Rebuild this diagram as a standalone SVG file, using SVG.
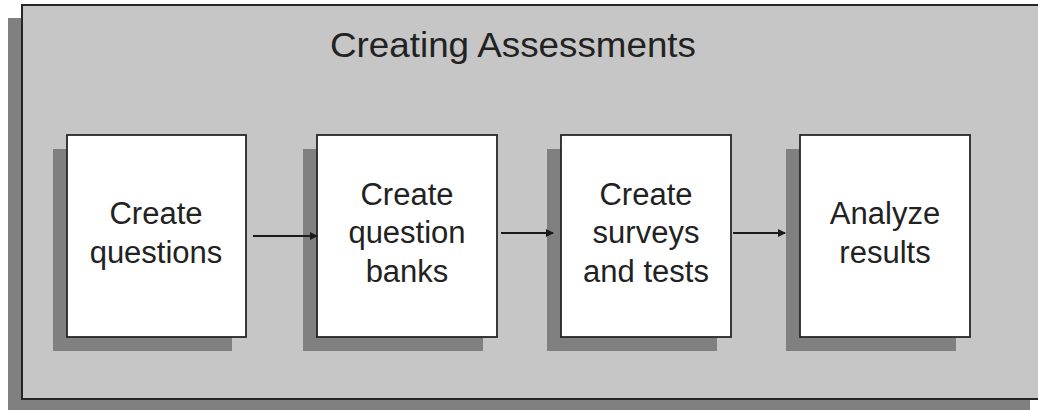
<svg xmlns="http://www.w3.org/2000/svg" width="1038" height="410" viewBox="0 0 1038 410">
<style>
.shadow{fill:#808080}
.panel{fill:#c6c6c6;stroke:#262626;stroke-width:2}
.box{fill:#ffffff;stroke:#262626;stroke-width:1.8}
.lbl{font-family:"Liberation Sans",Arial,sans-serif;font-size:31px;fill:#222;text-anchor:middle}
.title{font-family:"Liberation Sans",Arial,sans-serif;font-size:35px;fill:#222;text-anchor:middle}
.conn{stroke:#1a1a1a;stroke-width:2;fill:none;marker-end:url(#ah)}
</style>
<defs>
<marker id="ah" markerWidth="8" markerHeight="8" refX="7" refY="4" orient="auto" markerUnits="userSpaceOnUse">
<path d="M0,0 L8,4 L0,8 Z" fill="#1a1a1a"/>
</marker>
</defs>
<rect width="1038" height="410" fill="#ffffff"/>
<g id="panel">
<rect class="shadow" x="8" y="18" width="1022" height="395"/>
<rect class="panel" x="22" y="5" width="1030" height="394"/>
<text class="title" x="513" y="57" textLength="366" lengthAdjust="spacingAndGlyphs">Creating Assessments</text>
</g>
<g id="node-create-questions">
<rect class="shadow" x="53" y="149" width="179" height="202"/>
<rect class="box" x="67" y="135" width="179" height="202"/>
<text class="lbl" x="156" y="224">Create</text>
<text class="lbl" x="156" y="263">questions</text>
</g>
<g id="node-create-question-banks">
<rect class="shadow" x="303" y="149" width="180" height="202"/>
<rect class="box" x="317" y="135" width="180" height="202"/>
<text class="lbl" x="407" y="205">Create</text>
<text class="lbl" x="407" y="243">question</text>
<text class="lbl" x="407" y="282">banks</text>
</g>
<g id="node-create-surveys">
<rect class="shadow" x="547" y="149" width="170" height="202"/>
<rect class="box" x="561" y="135" width="170" height="202"/>
<text class="lbl" x="646" y="205">Create</text>
<text class="lbl" x="646" y="243">surveys</text>
<text class="lbl" x="646" y="282">and tests</text>
</g>
<g id="node-analyze-results">
<rect class="shadow" x="786" y="149" width="170" height="202"/>
<rect class="box" x="800" y="135" width="170" height="202"/>
<text class="lbl" x="885" y="224">Analyze</text>
<text class="lbl" x="885" y="263">results</text>
</g>
<g id="connectors">
<line class="conn" x1="253" y1="236" x2="317" y2="236"/>
<line class="conn" x1="501" y1="233" x2="553" y2="233"/>
<line class="conn" x1="733" y1="233" x2="785" y2="233"/>
</g>
</svg>
